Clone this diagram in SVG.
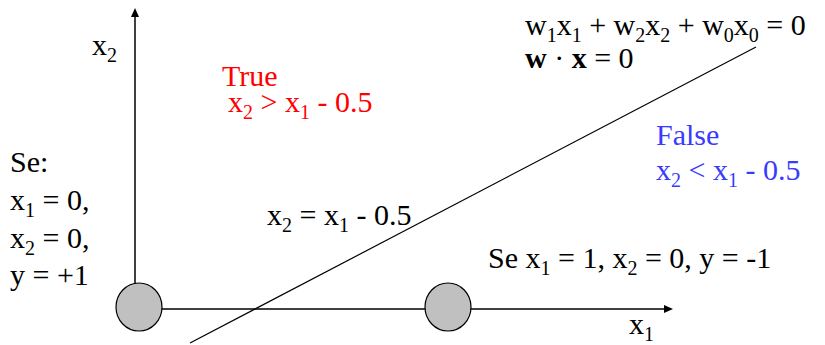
<svg xmlns="http://www.w3.org/2000/svg" width="825" height="345" viewBox="0 0 825 345">
<g id="connectors" stroke="#000" fill="none">
<line x1="135" y1="284" x2="135" y2="16" stroke-width="1.5"/>
<polygon points="135,8 131,17 139,17" fill="#000" stroke="none"/>
<line x1="160" y1="309" x2="665" y2="309" stroke-width="1.5"/>
<polygon points="673,309 664,305 664,313" fill="#000" stroke="none"/>
<line x1="190" y1="343" x2="756" y2="47" stroke-width="1.2"/>
</g>
<g id="p1"><ellipse cx="139" cy="307" rx="23" ry="24" fill="#c0c0c0" stroke="#000" stroke-width="1.2"/></g>
<g id="p2"><ellipse cx="448" cy="307" rx="23" ry="24" fill="#c0c0c0" stroke="#000" stroke-width="1.2"/></g>
<g id="labels">
<text font-family="Liberation Serif" font-size="30" x="92" y="55">x<tspan font-size="20" dy="7">2</tspan></text>
<text font-family="Liberation Serif" font-size="30" x="629" y="334">x<tspan font-size="20" dy="7">1</tspan></text>
<text font-family="Liberation Serif" font-size="30" fill="#ff0000" x="222" y="86">True</text>
<text font-family="Liberation Serif" font-size="30" fill="#ff0000" x="228" y="112">x<tspan font-size="20" dy="7">2</tspan><tspan dy="-7"> &gt; x</tspan><tspan font-size="20" dy="7">1</tspan><tspan dy="-7"> - 0.5</tspan></text>
<text font-family="Liberation Serif" font-size="30" x="525" y="35">w<tspan font-size="20" dy="7">1</tspan><tspan dy="-7">x</tspan><tspan font-size="20" dy="7">1</tspan><tspan dy="-7"> + w</tspan><tspan font-size="20" dy="7">2</tspan><tspan dy="-7">x</tspan><tspan font-size="20" dy="7">2</tspan><tspan dy="-7"> + w</tspan><tspan font-size="20" dy="7">0</tspan><tspan dy="-7">x</tspan><tspan font-size="20" dy="7">0</tspan><tspan dy="-7"> = 0</tspan></text>
<text font-family="Liberation Serif" font-size="30" x="525" y="68"><tspan font-weight="bold">w</tspan> &#183; <tspan font-weight="bold">x</tspan> = 0</text>
<text font-family="Liberation Serif" font-size="30" fill="#3a3aff" x="656" y="145">False</text>
<text font-family="Liberation Serif" font-size="30" fill="#3a3aff" x="656" y="180">x<tspan font-size="20" dy="7">2</tspan><tspan dy="-7"> &lt; x</tspan><tspan font-size="20" dy="7">1</tspan><tspan dy="-7"> - 0.5</tspan></text>
<text font-family="Liberation Serif" font-size="30" x="267" y="225">x<tspan font-size="20" dy="7">2</tspan><tspan dy="-7"> = x</tspan><tspan font-size="20" dy="7">1</tspan><tspan dy="-7"> - 0.5</tspan></text>
<text font-family="Liberation Serif" font-size="30" x="488" y="268">Se x<tspan font-size="20" dy="7">1</tspan><tspan dy="-7"> = 1, x</tspan><tspan font-size="20" dy="7">2</tspan><tspan dy="-7"> = 0, y = -1</tspan></text>
<text font-family="Liberation Serif" font-size="30" x="10" y="172">Se:</text>
<text font-family="Liberation Serif" font-size="30" x="10" y="210">x<tspan font-size="20" dy="7">1</tspan><tspan dy="-7"> = 0,</tspan></text>
<text font-family="Liberation Serif" font-size="30" x="10" y="248">x<tspan font-size="20" dy="7">2</tspan><tspan dy="-7"> = 0,</tspan></text>
<text font-family="Liberation Serif" font-size="30" x="10" y="285">y = +1</text>
</g>
</svg>
